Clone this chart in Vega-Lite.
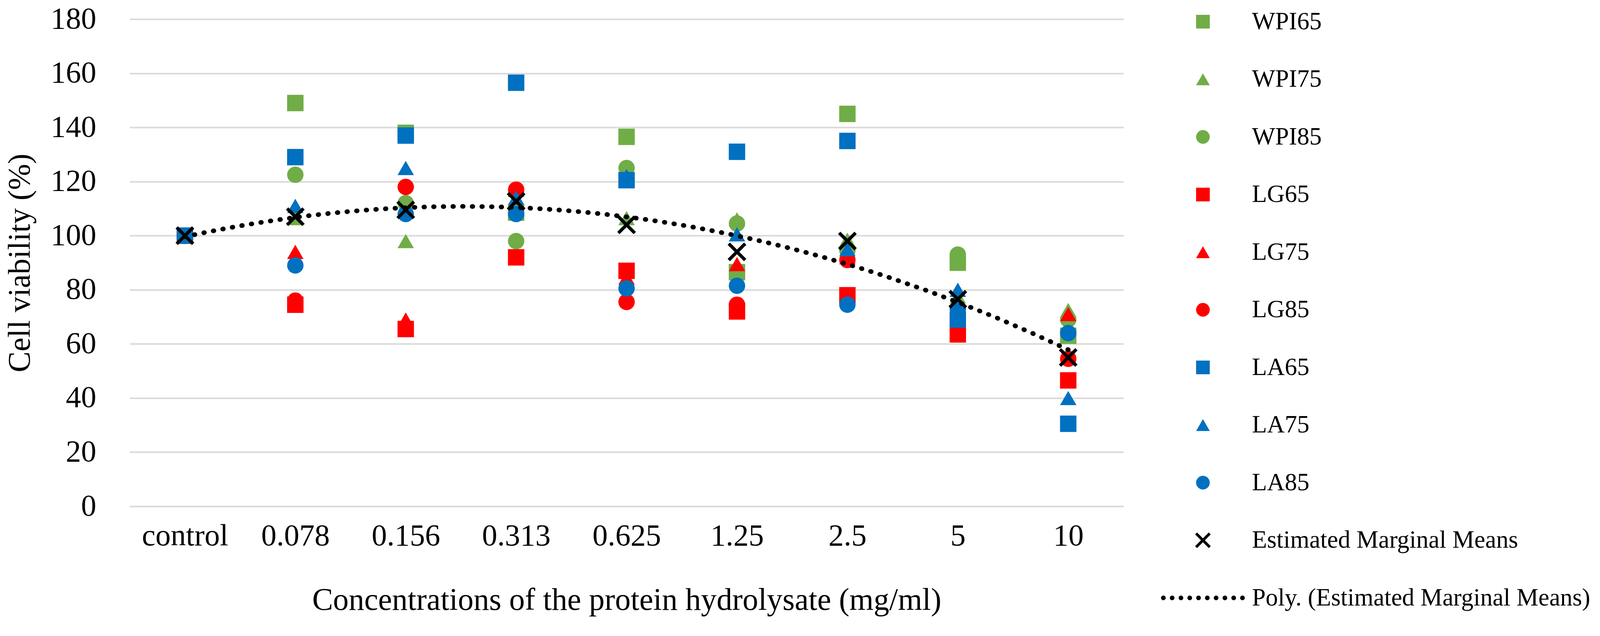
{
  "$schema": "https://vega.github.io/schema/vega-lite/v6.json",
  "width": 2544,
  "height": 1247,
  "autosize": {"type": "none"},
  "padding": {"left": 332, "top": 49, "right": 1298, "bottom": 332},
  "background": "white",
  "config": {
    "view": {"stroke": null},
    "font": "Liberation Serif",
    "axis": {"labelFont": "Liberation Serif", "titleFont": "Liberation Serif", "labelColor": "black", "titleColor": "black", "titleFontWeight": "normal"},
    "legend": {"labelFont": "Liberation Serif", "labelColor": "black"}
  },
  "data": {
    "values": [
      {"concentration": "control", "dose_index": 1, "series": "WPI65", "viability": 100},
      {"concentration": "control", "dose_index": 1, "series": "WPI75", "viability": 100},
      {"concentration": "control", "dose_index": 1, "series": "WPI85", "viability": 100},
      {"concentration": "control", "dose_index": 1, "series": "LG65", "viability": 100},
      {"concentration": "control", "dose_index": 1, "series": "LG75", "viability": 100},
      {"concentration": "control", "dose_index": 1, "series": "LG85", "viability": 100},
      {"concentration": "control", "dose_index": 1, "series": "LA65", "viability": 100},
      {"concentration": "control", "dose_index": 1, "series": "LA75", "viability": 100},
      {"concentration": "control", "dose_index": 1, "series": "LA85", "viability": 100},

      {"concentration": "0.078", "dose_index": 2, "series": "WPI65", "viability": 149},
      {"concentration": "0.078", "dose_index": 2, "series": "WPI75", "viability": 106.5},
      {"concentration": "0.078", "dose_index": 2, "series": "WPI85", "viability": 122.5},
      {"concentration": "0.078", "dose_index": 2, "series": "LG65", "viability": 74.5},
      {"concentration": "0.078", "dose_index": 2, "series": "LG75", "viability": 94},
      {"concentration": "0.078", "dose_index": 2, "series": "LG85", "viability": 76},
      {"concentration": "0.078", "dose_index": 2, "series": "LA65", "viability": 129},
      {"concentration": "0.078", "dose_index": 2, "series": "LA75", "viability": 111},
      {"concentration": "0.078", "dose_index": 2, "series": "LA85", "viability": 89},

      {"concentration": "0.156", "dose_index": 3, "series": "WPI65", "viability": 138},
      {"concentration": "0.156", "dose_index": 3, "series": "WPI75", "viability": 98},
      {"concentration": "0.156", "dose_index": 3, "series": "WPI85", "viability": 112},
      {"concentration": "0.156", "dose_index": 3, "series": "LG65", "viability": 65.5},
      {"concentration": "0.156", "dose_index": 3, "series": "LG75", "viability": 69},
      {"concentration": "0.156", "dose_index": 3, "series": "LG85", "viability": 118},
      {"concentration": "0.156", "dose_index": 3, "series": "LA65", "viability": 137},
      {"concentration": "0.156", "dose_index": 3, "series": "LA75", "viability": 125},
      {"concentration": "0.156", "dose_index": 3, "series": "LA85", "viability": 108},

      {"concentration": "0.313", "dose_index": 4, "series": "WPI65", "viability": 108.5},
      {"concentration": "0.313", "dose_index": 4, "series": "WPI75", "viability": 111},
      {"concentration": "0.313", "dose_index": 4, "series": "WPI85", "viability": 98},
      {"concentration": "0.313", "dose_index": 4, "series": "LG65", "viability": 92},
      {"concentration": "0.313", "dose_index": 4, "series": "LG75", "viability": 117},
      {"concentration": "0.313", "dose_index": 4, "series": "LG85", "viability": 117},
      {"concentration": "0.313", "dose_index": 4, "series": "LA65", "viability": 156.5},
      {"concentration": "0.313", "dose_index": 4, "series": "LA75", "viability": 114},
      {"concentration": "0.313", "dose_index": 4, "series": "LA85", "viability": 108},

      {"concentration": "0.625", "dose_index": 5, "series": "WPI65", "viability": 136.5},
      {"concentration": "0.625", "dose_index": 5, "series": "WPI75", "viability": 106.5},
      {"concentration": "0.625", "dose_index": 5, "series": "WPI85", "viability": 125},
      {"concentration": "0.625", "dose_index": 5, "series": "LG65", "viability": 87},
      {"concentration": "0.625", "dose_index": 5, "series": "LG75", "viability": 84.5},
      {"concentration": "0.625", "dose_index": 5, "series": "LG85", "viability": 75.5},
      {"concentration": "0.625", "dose_index": 5, "series": "LA65", "viability": 120.5},
      {"concentration": "0.625", "dose_index": 5, "series": "LA75", "viability": 122},
      {"concentration": "0.625", "dose_index": 5, "series": "LA85", "viability": 80.5},

      {"concentration": "1.25", "dose_index": 6, "series": "WPI65", "viability": 86.5},
      {"concentration": "1.25", "dose_index": 6, "series": "WPI75", "viability": 106},
      {"concentration": "1.25", "dose_index": 6, "series": "WPI85", "viability": 104.5},
      {"concentration": "1.25", "dose_index": 6, "series": "LG65", "viability": 72},
      {"concentration": "1.25", "dose_index": 6, "series": "LG75", "viability": 89.5},
      {"concentration": "1.25", "dose_index": 6, "series": "LG85", "viability": 74.5},
      {"concentration": "1.25", "dose_index": 6, "series": "LA65", "viability": 131},
      {"concentration": "1.25", "dose_index": 6, "series": "LA75", "viability": 100.5},
      {"concentration": "1.25", "dose_index": 6, "series": "LA85", "viability": 81.5},

      {"concentration": "2.5", "dose_index": 7, "series": "WPI65", "viability": 145},
      {"concentration": "2.5", "dose_index": 7, "series": "WPI75", "viability": 98.5},
      {"concentration": "2.5", "dose_index": 7, "series": "WPI85", "viability": 94.5},
      {"concentration": "2.5", "dose_index": 7, "series": "LG65", "viability": 78},
      {"concentration": "2.5", "dose_index": 7, "series": "LG75", "viability": 92},
      {"concentration": "2.5", "dose_index": 7, "series": "LG85", "viability": 91},
      {"concentration": "2.5", "dose_index": 7, "series": "LA65", "viability": 135},
      {"concentration": "2.5", "dose_index": 7, "series": "LA75", "viability": 95},
      {"concentration": "2.5", "dose_index": 7, "series": "LA85", "viability": 74.5},

      {"concentration": "5", "dose_index": 8, "series": "WPI65", "viability": 90},
      {"concentration": "5", "dose_index": 8, "series": "WPI75", "viability": 77.5},
      {"concentration": "5", "dose_index": 8, "series": "WPI85", "viability": 93},
      {"concentration": "5", "dose_index": 8, "series": "LG65", "viability": 63.5},
      {"concentration": "5", "dose_index": 8, "series": "LG75", "viability": 72},
      {"concentration": "5", "dose_index": 8, "series": "LG85", "viability": 70},
      {"concentration": "5", "dose_index": 8, "series": "LA65", "viability": 69},
      {"concentration": "5", "dose_index": 8, "series": "LA75", "viability": 80},
      {"concentration": "5", "dose_index": 8, "series": "LA85", "viability": 73},

      {"concentration": "10", "dose_index": 9, "series": "WPI65", "viability": 63},
      {"concentration": "10", "dose_index": 9, "series": "WPI75", "viability": 72.5},
      {"concentration": "10", "dose_index": 9, "series": "WPI85", "viability": 69},
      {"concentration": "10", "dose_index": 9, "series": "LG65", "viability": 46.5},
      {"concentration": "10", "dose_index": 9, "series": "LG75", "viability": 71},
      {"concentration": "10", "dose_index": 9, "series": "LG85", "viability": 54.5},
      {"concentration": "10", "dose_index": 9, "series": "LA65", "viability": 30.5},
      {"concentration": "10", "dose_index": 9, "series": "LA75", "viability": 40},
      {"concentration": "10", "dose_index": 9, "series": "LA85", "viability": 64},

      {"concentration": "control", "dose_index": 1, "series": "Estimated Marginal Means", "viability": 100},
      {"concentration": "0.078", "dose_index": 2, "series": "Estimated Marginal Means", "viability": 107},
      {"concentration": "0.156", "dose_index": 3, "series": "Estimated Marginal Means", "viability": 109.5},
      {"concentration": "0.313", "dose_index": 4, "series": "Estimated Marginal Means", "viability": 112.7},
      {"concentration": "0.625", "dose_index": 5, "series": "Estimated Marginal Means", "viability": 104},
      {"concentration": "1.25", "dose_index": 6, "series": "Estimated Marginal Means", "viability": 94},
      {"concentration": "2.5", "dose_index": 7, "series": "Estimated Marginal Means", "viability": 98},
      {"concentration": "5", "dose_index": 8, "series": "Estimated Marginal Means", "viability": 76.5},
      {"concentration": "10", "dose_index": 9, "series": "Estimated Marginal Means", "viability": 55}
    ]
  },
  "layer": [
    {
      "mark": {"type": "point", "filled": true, "opacity": 1, "size": 1764, "strokeWidth": 0},
      "encoding": {
        "x": {
          "field": "dose_index",
          "type": "quantitative",
          "scale": {"domain": [0.5, 9.5], "nice": false, "zero": false},
          "axis": {
            "values": [1, 2, 3, 4, 5, 6, 7, 8, 9],
            "labelExpr": "['control','0.078','0.156','0.313','0.625','1.25','2.5','5','10'][datum.value - 1]",
            "grid": false,
            "domain": false,
            "ticks": false,
            "tickSize": 0,
            "labelFlush": false,
            "labelOverlap": false,
            "labelLimit": 1000,
            "labelFontSize": 78,
            "labelPadding": 37,
            "title": "Concentrations of the protein hydrolysate (mg/ml)",
            "titleFontSize": 80,
            "titlePadding": 86
          }
        },
        "y": {
          "field": "viability",
          "type": "quantitative",
          "scale": {"domain": [0, 180], "nice": false},
          "axis": {
            "values": [0, 20, 40, 60, 80, 100, 120, 140, 160, 180],
            "grid": true,
            "gridColor": "#D9D9D9",
            "gridWidth": 4,
            "domain": false,
            "ticks": false,
            "tickSize": 0,
            "labelFontSize": 78,
            "labelPadding": 86,
            "title": "Cell viability (%)",
            "titleFontSize": 80,
            "titlePadding": 40
          }
        },
        "color": {
          "field": "series",
          "type": "nominal",
          "scale": {
            "domain": ["WPI65", "WPI75", "WPI85", "LG65", "LG75", "LG85", "LA65", "LA75", "LA85", "Estimated Marginal Means", "Poly. (Estimated Marginal Means)"],
            "range": ["#70AD47", "#70AD47", "#70AD47", "#FF0000", "#FF0000", "#FF0000", "#0070C0", "#0070C0", "#0070C0", "#000000", "#000000"]
          },
          "legend": {
            "title": null,
            "orient": "none",
            "legendX": 2716,
            "legendY": -25,
            "symbolSize": 1225,
            "symbolStrokeWidth": 0,
            "symbolOpacity": 1,
            "labelFontSize": 63,
            "labelOffset": 94,
            "labelLimit": 3000,
            "rowPadding": 83.5,
            "padding": 0
          }
        },
        "shape": {
          "field": "series",
          "type": "nominal",
          "scale": {
            "domain": ["WPI65", "WPI75", "WPI85", "LG65", "LG75", "LG85", "LA65", "LA75", "LA85", "Estimated Marginal Means", "Poly. (Estimated Marginal Means)"],
            "range": [
              "square", "triangle-up", "circle",
              "square", "triangle-up", "circle",
              "square", "triangle-up", "circle",
              "M-0.859,-1.141L1.141,0.859L0.859,1.141L-1.141,-0.859ZM1.141,-0.859L-0.859,1.141L-1.141,0.859L0.859,-1.141Z",
              "M-6.126,0a0.34,0.34 0 1,0 0.68,0a0.34,0.34 0 1,0 -0.68,0ZM-4.84,0a0.34,0.34 0 1,0 0.68,0a0.34,0.34 0 1,0 -0.68,0ZM-3.554,0a0.34,0.34 0 1,0 0.68,0a0.34,0.34 0 1,0 -0.68,0ZM-2.269,0a0.34,0.34 0 1,0 0.68,0a0.34,0.34 0 1,0 -0.68,0ZM-0.983,0a0.34,0.34 0 1,0 0.68,0a0.34,0.34 0 1,0 -0.68,0ZM0.303,0a0.34,0.34 0 1,0 0.68,0a0.34,0.34 0 1,0 -0.68,0ZM1.589,0a0.34,0.34 0 1,0 0.68,0a0.34,0.34 0 1,0 -0.68,0ZM2.874,0a0.34,0.34 0 1,0 0.68,0a0.34,0.34 0 1,0 -0.68,0ZM4.16,0a0.34,0.34 0 1,0 0.68,0a0.34,0.34 0 1,0 -0.68,0ZM5.446,0a0.34,0.34 0 1,0 0.68,0a0.34,0.34 0 1,0 -0.68,0Z"
            ]
          }
        }
      }
    },
    {
      "transform": [
        {"filter": "datum.series === 'Estimated Marginal Means'"},
        {"regression": "viability", "on": "dose_index", "method": "poly", "order": 2}
      ],
      "mark": {"type": "line", "color": "black", "strokeWidth": 12, "strokeDash": [1.5, 23.2], "strokeCap": "round"},
      "encoding": {
        "x": {"field": "dose_index", "type": "quantitative"},
        "y": {"field": "viability", "type": "quantitative"}
      }
    }
  ]
}
